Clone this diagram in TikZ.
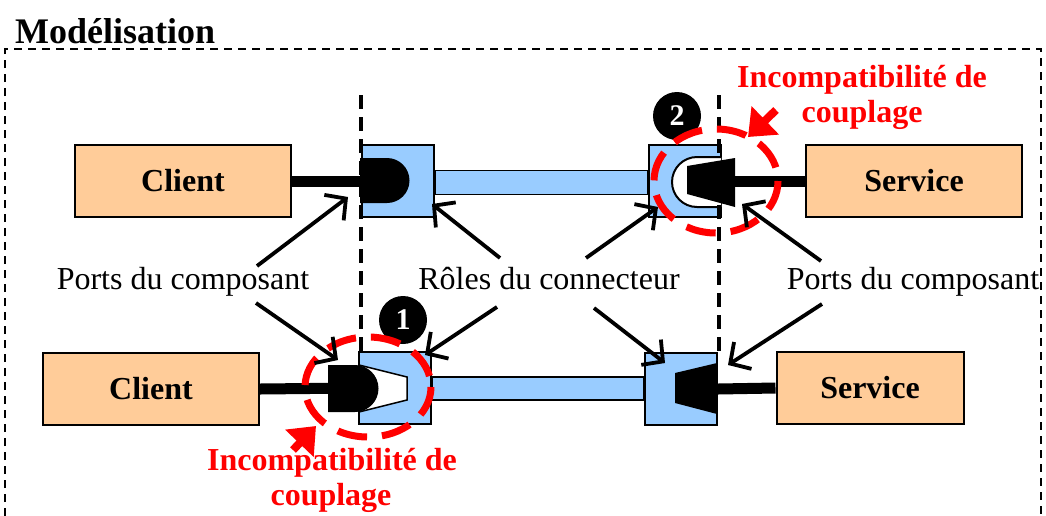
\documentclass[tikz,border=0pt]{standalone}
\usepackage{fontspec}
\setmainfont{Liberation Serif}
\usetikzlibrary{arrows.meta}
\definecolor{compfill}{HTML}{FFCC99}
\definecolor{rolefill}{HTML}{99CCFF}
\begin{document}
\begin{tikzpicture}[x=1pt, y=-1pt,
        comp/.style={draw=black, line width=2pt, fill=compfill, minimum width=216pt, minimum height=72pt, inner sep=0pt, font=\fontsize{32}{35}\selectfont\bfseries},
        role/.style={draw=black, line width=2pt, fill=rolefill, minimum width=72pt, minimum height=72pt, inner sep=0pt},
        bar/.style={draw=black, line width=1.5pt, fill=rolefill},
        rod/.style={line width=11pt},
        lbl/.style={anchor=base, inner sep=0pt, font=\fontsize{32}{35}\selectfont},
        redlbl/.style={anchor=base, inner sep=0pt, text=red, font=\fontsize{32}{35}\selectfont\bfseries},
        numc/.style={circle, fill=black, text=white, minimum size=48pt, inner sep=0pt, font=\fontsize{30}{30}\selectfont\bfseries},
        ptr/.style={line width=3.8pt, -{Straight Barb[length=15pt, width=32pt]}},
        redptr/.style={red, line width=8pt, -{Triangle[length=24pt, width=38pt]}},
        redring/.style={red, line width=7pt, dash pattern=on 30pt off 15pt},
        sep/.style={line width=4pt, dash pattern=on 14pt off 8pt}]
        \useasboundingbox (0,0) rectangle (1046,515);
        \node[anchor=base west, inner sep=0pt, font=\fontsize{36}{40}\selectfont\bfseries] (title) at (15,43) {Modélisation};
        \draw[line width=2pt, dash pattern=on 8pt off 6pt] (5,530) -- (5,49) -- (1041,49) -- (1041,530);

        % first row
        \node[comp] (clientA) at (183,181) {Client};
        \node[role] (roleA) at (398,181) {};
        \node[role] (roleB) at (685,181) {};
        \node[comp] (serviceA) at (914,181) {Service};
        \draw[bar] ([yshift=-13.5pt]roleA.east) rectangle ([yshift=10.5pt]roleB.west);
        \draw[rod] (clientA.east) -- (roleA.west);
        \draw[rod] (serviceA.west) -- (roleB.east);
        \fill (360,158) -- (387,158) arc[start angle=-90, end angle=90, radius=22.5] -- (360,203) -- cycle;
        \draw[fill=white, line width=2pt] (721,157) -- (697,157) arc[start angle=-90, end angle=-270, radius=25] -- (721,207);
        \fill (687,166) -- (735,158) -- (735,207) -- (687,194) -- cycle;

        % second row
        \node[comp] (clientB) at (151,389) {Client};
        \node[role] (roleC) at (395,388) {};
        \node[role] (roleD) at (681,389) {};
        \node[comp, minimum width=187pt] (serviceB) at (870,388) {Service};
        \draw[bar] ([yshift=-12pt]roleC.east) rectangle ([yshift=12pt]roleD.west);
        \draw[rod] (clientB.east) -- (roleC.west);
        \draw[rod] (serviceB.west) -- (roleD.east);
        \draw[fill=white, line width=1.5pt] (359,365) -- (407,377) -- (407,400) -- (359,412);
        \fill (328,365) -- (355,365) arc[start angle=-90, end angle=90, radius=23.5] -- (328,412) -- cycle;
        \fill (675,373) -- (717,363) -- (717,414) -- (675,403) -- cycle;

        \draw[sep] (361,95) -- (361,353);
        \draw[sep] (719,95) -- (719,353);

        \node[numc] (n2) at (677,116) {2};
        \node[numc] (n1) at (403,320) {1};

        % couplage
        \draw[redring] (716,181) ellipse [x radius=62, y radius=52];
        \draw[redring] (368,387) ellipse [x radius=63, y radius=50];
        \coordinate (rtA) at (776,110);
        \coordinate (rhA) at (748,137);
        \coordinate (rtB) at (293,450);
        \coordinate (rhB) at (316,426);
        \draw[redptr] (rtA) -- (rhA);
        \draw[redptr] (rtB) -- (rhB);
        \node[redlbl] (incA) at (862,87) {Incompatibilité de};
        \node[redlbl] (coupA) at (862,122) {couplage};
        \node[redlbl] (incB) at (332,470) {Incompatibilité de};
        \node[redlbl] (coupB) at (331,505) {couplage};

        % labels
        \node[lbl] (portsL) at (183,289) {Ports du composant};
        \node[lbl] (roles) at (549,289) {Rôles du connecteur};
        \node[lbl] (portsR) at (913,289) {Ports du composant};
        \coordinate (pA) at (348,197);
        \coordinate (pB) at (338,360);
        \coordinate (rA) at (432,204);
        \coordinate (rB) at (658,207);
        \coordinate (rC) at (425,355);
        \coordinate (rD) at (665,363);
        \coordinate (pC) at (742,204);
        \coordinate (pD) at (728,365);
        \draw[ptr] (257,266) -- (pA);
        \draw[ptr] (256,303) -- (pB);
        \draw[ptr] (500,258) -- (rA);
        \draw[ptr] (586,258) -- (rB);
        \draw[ptr] (497,307) -- (rC);
        \draw[ptr] (594,308) -- (rD);
        \draw[ptr] (821,261) -- (pC);
        \draw[ptr] (822,304) -- (pD);
\end{tikzpicture}
\end{document}
